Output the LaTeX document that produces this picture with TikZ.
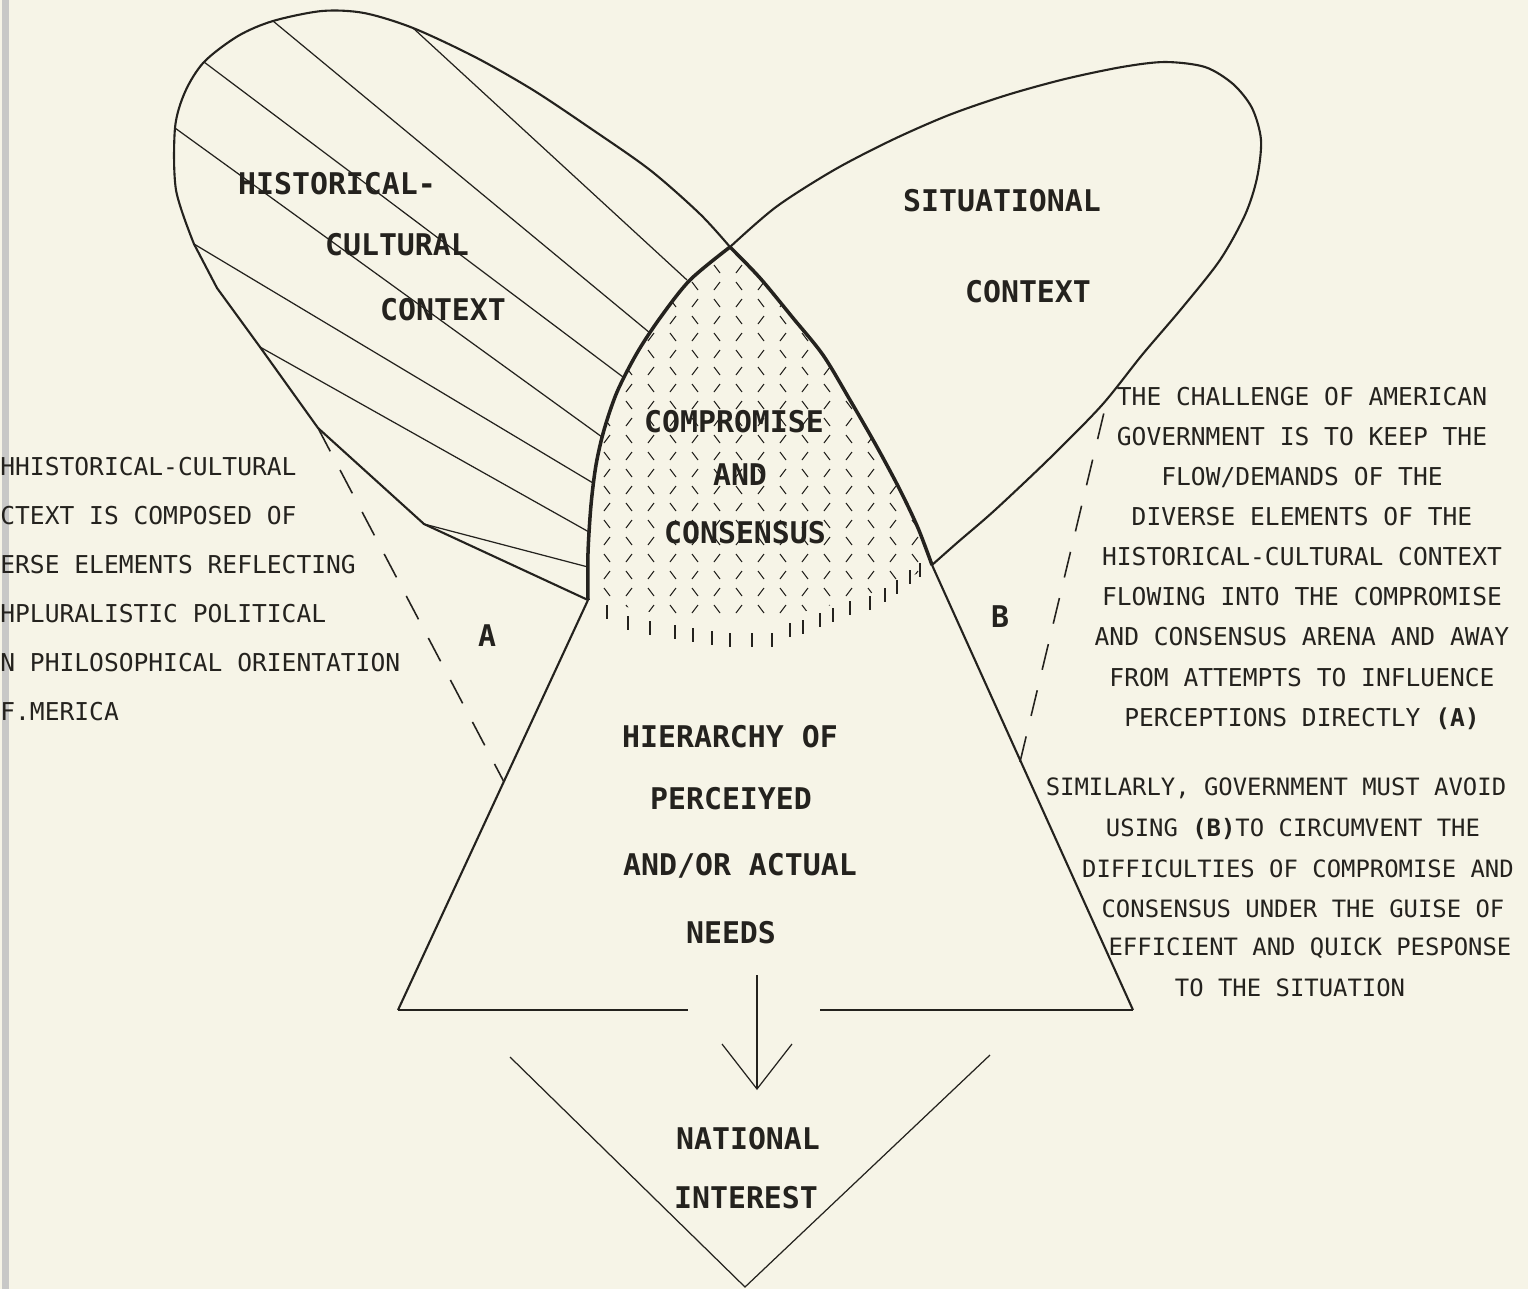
\documentclass[tikz,border=0pt]{standalone}
\usepackage{fontspec}
\setmonofont{DejaVu Sans Mono}
\usepackage{tikz}
\usetikzlibrary{arrows.meta}

\definecolor{paper}{RGB}{246,244,231}
\definecolor{ink}{RGB}{36,34,30}

\tikzset{
  lobeline/.style={ink, line width=1.2pt, line join=round},
  rimline/.style={ink, line width=2pt, line join=round},
  floorline/.style={ink, line width=1.6pt},
  hatchline/.style={ink, line width=0.7pt},
  dotline/.style={ink, line width=0.6pt},
  guideline/.style={ink, line width=0.9pt, dash pattern=on 15pt off 12pt},
  bigtxt/.style={inner sep=0pt, text=ink, font=\ttfamily\bfseries\fontsize{17pt}{20pt}\selectfont},
  noteR/.style={inner sep=0pt, text=ink, align=center, font=\ttfamily\fontsize{14pt}{22.8pt}\selectfont},
  noteS/.style={inner sep=0pt, text=ink, font=\ttfamily\fontsize{13.6pt}{16pt}\selectfont},
  noteL/.style={inner sep=0pt, text=ink, align=left, font=\ttfamily\fontsize{14pt}{27.9pt}\selectfont},
}

\begin{document}
\begin{tikzpicture}[x=0.02cm, y=-0.02cm]
\useasboundingbox (0,0) rectangle (1528,1289);
\fill[paper] (0,0) rectangle (1528,1289);
\fill[ink!25] (2,0) rectangle (9,1289);

\coordinate (vtx) at (730,247);
\coordinate (cl) at (588,600);
\coordinate (cr) at (932,565);
\coordinate (bl) at (398,1010);
\coordinate (br) at (1133,1010);
\coordinate (gl) at (688,1010);
\coordinate (gr) at (820,1010);
\coordinate (aS) at (318,428);
\coordinate (aE) at (504,782);
\coordinate (bS) at (1107,400);
\coordinate (bE) at (1020,762);
\coordinate (arrTop) at (757,975);
\coordinate (arrTip) at (757,1090);
\coordinate (vL) at (510,1057);
\coordinate (vB) at (745,1287);
\coordinate (vR) at (990,1055);

% stipple of the common area
\begin{scope}
  \clip plot[smooth] coordinates {(588,600) (588,553) (591,505) (596,465) (604,430) (617,392) (637,353) (660,318) (690,280) (730,247)}
    -- plot[smooth] coordinates {(730,247) (760,278) (793,318) (823,355) (850,400) (877,447) (900,490) (918,528) (932,565)}
    -- plot[smooth] coordinates {(932,565) (900,582) (850,600) (790,614) (720,620) (650,612) (600,600)} -- cycle;
  \foreach \row in {0,...,22}{
    \foreach \col in {0,...,16}{
      \ifodd\numexpr\row+\col\relax
        \draw[dotline] ({585+22*\col-3},{252+17*\row-4}) -- ++(6,8);
      \else
        \draw[dotline] ({585+22*\col-3},{252+17*\row+4}) -- ++(6,-8);
      \fi
    }
  }
\end{scope}
\foreach \x/\y in {607/612,628/623,650/628,675/632,693/635,712/638,730/640,752/640,772/640,790/630,803/627,820/620,833/615,850/608,870/603,885/595,897/587,910/577,920/570}{
  \draw[dotline] (\x,\y-7) -- (\x,\y+7);
}

% hatching of the historical-cultural lobe
\foreach \xa/\ya/\xb/\yb in {413/28/687/280, 273/21/650/333, 204/62/623/377, 175/128/602/437, 194/244/593/483, 260/347/589/532, 424/524/588/567}{
  \draw[hatchline] (\xa,\ya) -- (\xb,\yb);
}

% lobes
\draw[lobeline] plot[smooth] coordinates {(730,247) (700,214) (650,170) (590,128) (533,90) (475,57) (413,28) (364,13) (322,11) (273,21) (238,36) (204,62) (185,92) (175,128) (176,190) (194,244)}
  -- (217,288) -- (260,347) -- (aS) -- (424,524) -- (cl);
\draw[lobeline] plot[smooth] coordinates {(730,247) (776,207) (834,170) (892,140) (949,115) (1007,95) (1065,79) (1122,67) (1165,62) (1205,67) (1233,84) (1252,108) (1261,140) (1257,178) (1245,215) (1220,260) (1182,308) (1142,355) (1102,405) (1050,458) (995,510) (958,542) (932,565)};
\draw[rimline] plot[smooth] coordinates {(588,600) (588,553) (591,505) (596,465) (604,430) (617,392) (637,353) (660,318) (690,280) (730,247)};
\draw[rimline] plot[smooth] coordinates {(730,247) (760,278) (793,318) (823,355) (850,400) (877,447) (900,490) (918,528) (932,565)};

% needs triangle
\draw[lobeline] (cl) -- (bl);
\draw[lobeline] (cr) -- (br);
\draw[floorline] (bl) -- (gl);
\draw[floorline] (gr) -- (br);
\draw[guideline] (aS) -- (aE);
\draw[guideline] (bE) -- (bS);
\draw[hatchline,-{Straight Barb[length=0.9cm,width=1.4cm]}] (arrTop) -- (arrTip);
\draw[hatchline] (vL) -- (vB) -- (vR);

\node[bigtxt] (hist1) at (337,184) {HISTORICAL-};
\node[bigtxt] (hist2) at (397,245) {CULTURAL};
\node[bigtxt] (hist3) at (443,310) {CONTEXT};
\node[bigtxt] (sit1) at (1002,201) {SITUATIONAL};
\node[bigtxt] (sit2) at (1028,292) {CONTEXT};
\node[bigtxt] (comp1) at (734,422) {COMPROMISE};
\node[bigtxt] (comp2) at (740,475) {AND};
\node[bigtxt] (comp3) at (745,533) {CONSENSUS};
\node[bigtxt] (markA) at (487,636) {A};
\node[bigtxt] (markB) at (1000,617) {B};
\node[bigtxt] (need1) at (730,737) {HIERARCHY OF};
\node[bigtxt] (need2) at (731,799) {PERCEIYED};
\node[bigtxt] (need3) at (740,866) {AND/OR ACTUAL};
\node[bigtxt] (need4) at (731,933) {NEEDS};
\node[bigtxt] (nat1) at (748,1139) {NATIONAL};
\node[bigtxt] (nat2) at (746,1198) {INTEREST};

\node[noteL, anchor=north west] (leftnote) at (0,457) {HHISTORICAL-CULTURAL\\CTEXT IS COMPOSED OF\\ERSE ELEMENTS REFLECTING\\HPLURALISTIC POLITICAL\\N PHILOSOPHICAL ORIENTATION\\F.MERICA};
\node[noteR, anchor=north] (challenge) at (1302,387) {THE CHALLENGE OF AMERICAN\\GOVERNMENT IS TO KEEP THE\\FLOW/DEMANDS OF THE\\DIVERSE ELEMENTS OF THE\\HISTORICAL-CULTURAL CONTEXT\\FLOWING INTO THE COMPROMISE\\AND CONSENSUS ARENA AND AWAY\\FROM ATTEMPTS TO INFLUENCE\\PERCEPTIONS DIRECTLY \textbf{(A)}};
\node[noteS] (sim1) at (1276,788) {SIMILARLY, GOVERNMENT MUST AVOID};
\node[noteS] (sim2) at (1293,829) {USING \textbf{(B)}TO CIRCUMVENT THE};
\node[noteS] (sim3) at (1298,869) {DIFFICULTIES OF COMPROMISE AND};
\node[noteS] (sim4) at (1303,909) {CONSENSUS UNDER THE GUISE OF};
\node[noteS] (sim5) at (1310,948) {EFFICIENT AND QUICK PESPONSE};
\node[noteS] (sim6) at (1290,988) {TO THE SITUATION};
\end{tikzpicture}
\end{document}
